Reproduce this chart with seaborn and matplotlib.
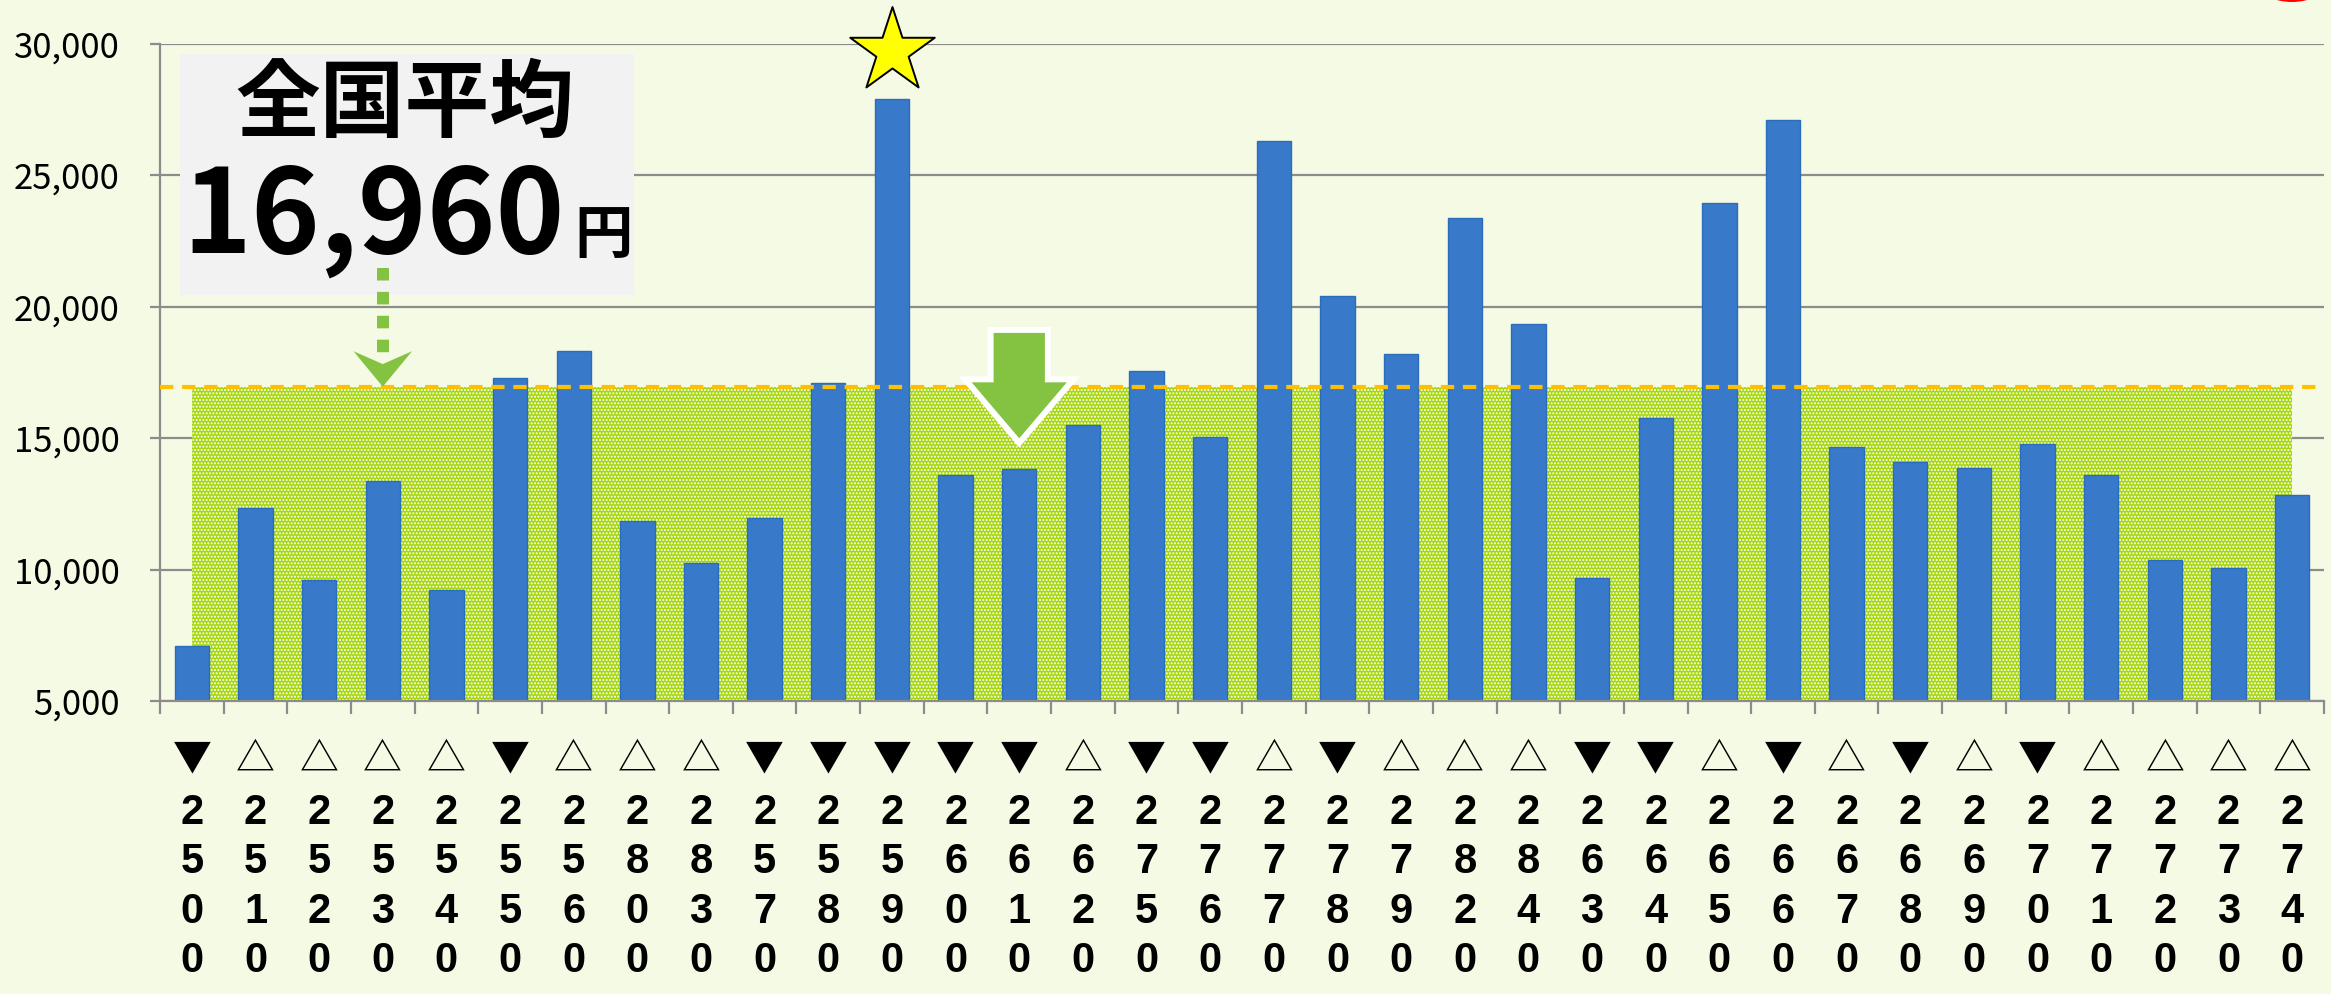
import numpy as np
import pandas as pd
import matplotlib
matplotlib.use('Agg')
import matplotlib.pyplot as plt
import matplotlib.patches as mpatches
from matplotlib.ticker import StrMethodFormatter, FixedLocator
import seaborn as sns

# data
codes = ['2500', '2510', '2520', '2530', '2540', '2550', '2560', '2800', '2830',
         '2570', '2580', '2590', '2600', '2610', '2620', '2750', '2760', '2770',
         '2780', '2790', '2820', '2840', '2630', '2640', '2650', '2660', '2670',
         '2680', '2690', '2700', '2710', '2720', '2730', '2740']
marks = ['▼', '△', '△', '△', '△', '▼', '△', '△', '△', '▼', '▼', '▼', '▼', '▼',
         '△', '▼', '▼', '△', '▼', '△', '△', '△', '▼', '▼', '△', '▼', '△', '▼',
         '△', '▼', '△', '△', '△', '△']
values = [7100, 12330, 9610, 13370, 9240, 17300, 18330, 11850, 10270, 11970,
          17090, 27900, 13600, 13820, 15490, 17550, 15040, 26300, 20420, 18190,
          23380, 19350, 9670, 15770, 23960, 27090, 14660, 14100, 13880, 14780,
          13600, 10380, 10070, 12830]
national_avg = 16960
avg_title = '全国平均'
avg_text = '16,960'
avg_unit = '円'
star_code = '2590'       # highest
down_code = '2610'       # highlighted with the big green arrow
pointer_code = '2530'    # where the dotted pointer meets the average line
y_ticks = [5000, 10000, 15000, 20000, 25000, 30000]

BG = '#F5FAE4'
GRID = '#8C8C8C'
BAR = '#387AC9'
GREEN = '#84C341'

plt.rcParams['font.family'] = ['Noto Sans CJK JP', 'DejaVu Sans']
plt.rcParams['hatch.color'] = 'white'
plt.rcParams['hatch.linewidth'] = 1.0

df = pd.DataFrame({'code': codes, 'value': values})
n = len(codes)
x = np.arange(n)

fig = plt.figure(figsize=(23.31, 9.94), dpi=100, facecolor=BG)
ax = fig.add_axes([160 / 2331, 293 / 994, 2164 / 2331, 657 / 994])
ax.set_facecolor(BG)

# national average band (dotted green area) behind the bars
ax.fill_between(x, y_ticks[0], national_avg, facecolor='#A6D60C',
                edgecolor='white', linewidth=0, hatch='.....', zorder=1)

sns.barplot(data=df, x='code', y='value', order=codes, color=BAR, saturation=1,
            width=0.54, edgecolor='#2A6EBB', linewidth=1, errorbar=None,
            ax=ax, zorder=2)

ax.axhline(national_avg, color='#FFC000', lw=3, ls=(0, (3.2, 2.1)), zorder=3)

ax.set_ylim(y_ticks[0], y_ticks[-1])
ax.set_xlim(-0.5, n - 0.5)
ax.yaxis.set_major_locator(FixedLocator(y_ticks))
ax.yaxis.set_major_formatter(StrMethodFormatter('{x:,.0f}'))
ax.set_axisbelow(True)
ax.grid(axis='y', color=GRID, lw=1.6)
ax.grid(axis='x', visible=False)
ax.set_xlabel('')
ax.set_ylabel('')

for side in ['top', 'right']:
    ax.spines[side].set_visible(False)
for side in ['left', 'bottom']:
    ax.spines[side].set_color(GRID)
    ax.spines[side].set_linewidth(1.6)

ax.tick_params(axis='y', length=7, width=1.6, color=GRID, pad=22, labelsize=25)
ax.set_xticks(x)
ax.set_xticklabels(['\n'.join(c) for c in codes], fontsize=30, fontweight='bold',
                   family=['Liberation Sans Narrow', 'Liberation Sans', 'DejaVu Sans'],
                   linespacing=1.31, va='top')
ax.tick_params(axis='x', which='major', length=0, pad=66)
ax.set_xticks(np.arange(-0.5, n), minor=True)
ax.tick_params(axis='x', which='minor', length=9, width=1.6, color=GRID)

for i, m in enumerate(marks):
    ax.annotate(m, xy=(i, 0), xycoords=('data', 'axes fraction'),
                xytext=(0, -42), textcoords='offset points', ha='center',
                va='center', fontsize=28, family=['Noto Sans CJK JP'])

# label box with the national average
ax.add_patch(mpatches.Rectangle((0.00924, 0.61796), 0.2098, 0.36682,
                                transform=ax.transAxes, facecolor='#F2F2F2',
                                edgecolor='none', zorder=4))
ax.text(0.1132, 0.870, avg_title, transform=ax.transAxes, ha='center',
        va='baseline', fontsize=61, fontweight='bold', zorder=6)
ax.text(0.18715, 0.6819, avg_text, transform=ax.transAxes, ha='right',
        va='baseline', fontsize=84, fontweight='bold', zorder=6)
ax.text(0.1913, 0.6819, avg_unit, transform=ax.transAxes, ha='left',
        va='baseline', fontsize=42, fontweight='bold', zorder=6)

# dotted pointer down to the average line
pi = codes.index(pointer_code)
ax.plot([pi, pi], [national_avg + 4520, national_avg + 1280], color=GREEN,
        lw=8.6, ls=(0, (1.05, 0.95)), dash_capstyle='butt', zorder=6)
ax.add_patch(mpatches.Polygon([[pi, national_avg],
                               [pi - 0.46, national_avg + 1350],
                               [pi, national_avg + 860],
                               [pi + 0.46, national_avg + 1350]],
                              closed=True, facecolor=GREEN, edgecolor='none',
                              zorder=6))

# star above the highest bar
si = codes.index(star_code)
ax.scatter([si], [values[si] + 1830], marker='*', s=4096, color='#FFFF00',
           edgecolors='black', linewidths=1.4, clip_on=False, zorder=7)

# big green down arrow
di = codes.index(down_code)
ax.add_patch(mpatches.FancyArrow(di, values[di] + 5300, 0, -4300, width=0.9,
                                 head_width=1.7, head_length=2420,
                                 length_includes_head=True, facecolor=GREEN,
                                 edgecolor='white', linewidth=4.3,
                                 joinstyle='miter', zorder=7))

# red mark cut off at the top right corner
fig.add_artist(mpatches.Ellipse((2292 / 2331, 1.018), 70 / 2331, 0.04,
                                transform=fig.transFigure, facecolor='#FF0000',
                                edgecolor='none'))

fig.savefig('out.png', dpi=100, facecolor=BG)
